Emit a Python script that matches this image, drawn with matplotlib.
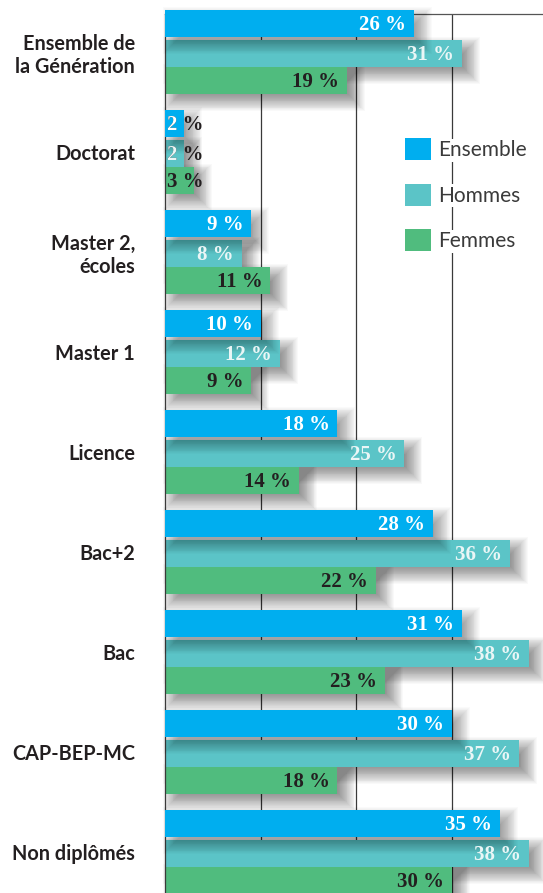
import matplotlib.pyplot as plt
from matplotlib.patches import Patch
import numpy as np

# Categories (top to bottom) and shares per series, in %
categories = ["Ensemble de\nla Génération", "Doctorat", "Master 2,\nécoles", "Master 1",
              "Licence", "Bac+2", "Bac", "CAP-BEP-MC", "Non diplômés"]
ensemble = [26, 2, 9, 10, 18, 28, 31, 30, 35]
hommes = [31, 2, 8, 12, 25, 36, 38, 37, 38]
femmes = [19, 3, 11, 9, 14, 22, 23, 18, 30]
series_names = ["Ensemble", "Hommes", "Femmes"]

colors = ["#00aeef", "#5bc4c7", "#50bc7e"]
text_colors = ["#ffffff", "#eaf6f6", "#231f20"]
offsets = [-0.285, 0.015, 0.285]
bar_h = 0.27

W, H = 543, 893
fig = plt.figure(figsize=(W / 100, H / 100), dpi=100)
ax = fig.add_axes([165 / W, 0, (W - 165) / W, (H - 14) / H])
px_x = 10 / 95.7   # data units (%) per pixel
px_y = 0.01        # data units (groups) per pixel
ax.set_xlim(0, (W - 165) * px_x)
ax.set_ylim(8.41, -0.38)

y = np.arange(len(categories))
values = [ensemble, hommes, femmes]

# soft drop shadow built from stacked translucent rectangles
def shadow(yc, vals, zorder, dx=8, dy=7, blur=10, layers=24, alpha=0.022):
    for j in range(layers):
        g = blur * (1 - 2 * j / (layers - 1))
        ax.barh(yc + dy * px_y, np.array(vals) + 2 * g * px_x,
                height=bar_h + 2 * g * px_y, left=(dx - g) * px_x,
                color="black", alpha=alpha, linewidth=0, zorder=zorder, clip_on=False)

shadow(y + offsets[2], femmes, 1)
shadow(y + offsets[1], hommes, 1)
shadow(y + offsets[0], ensemble, 3, alpha=0.02)

bars = []
for k, vals in enumerate(values):
    z = 4 if k == 0 else 2
    b = ax.barh(y + offsets[k], vals, height=bar_h, color=colors[k],
                linewidth=0, zorder=z, clip_on=False)
    bars.append(b)

# value labels
for k, vals in enumerate(values):
    for i, v in enumerate(vals):
        yc = y[i] + offsets[k]
        txt = f"{v} %"
        kw = dict(fontsize=15, fontweight="bold", family="Liberation Serif",
                  va="center", zorder=6, annotation_clip=False)
        if v < 5:
            ax.annotate(txt, (0, yc), xytext=(1.5, -1), textcoords="offset points",
                        ha="left", color="#231f20", **kw)
            if k < 2:
                t = ax.annotate(txt, (0, yc), xytext=(1.5, -1), textcoords="offset points",
                                ha="left", color=text_colors[k], **kw)
                t.set_clip_path(bars[k].patches[i])
        else:
            ax.annotate(txt, (v, yc), xytext=(-5.5, -1), textcoords="offset points",
                        ha="right", color=text_colors[k], **kw)

# grid and frame
for gx in [10, 20, 30]:
    ax.axvline(gx, color="#3a3a3a", linewidth=0.9, zorder=0.5)
for s in ["right", "bottom"]:
    ax.spines[s].set_visible(False)
ax.spines["left"].set_color("#3a3a3a")
ax.spines["top"].set_color("#555555")
ax.spines["left"].set_linewidth(0.9)
ax.spines["top"].set_linewidth(0.9)

ax.set_xticks([])
ax.set_yticks(y)
ax.set_yticklabels(categories, fontsize=14.3, fontweight="bold", family="Lato",
                   color="#231f20", linespacing=1.2)
ax.tick_params(axis="y", length=0, pad=21.5)

handles = [Patch(facecolor=c, edgecolor="none") for c in colors]
leg = ax.legend(handles, series_names, loc="upper left",
                bbox_to_anchor=(395 / W, 1 - 128 / H), bbox_transform=fig.transFigure,
                frameon=False, borderpad=0, handlelength=1.25, handleheight=1.25,
                handletextpad=0.3, labelspacing=1.12,
                prop=dict(family="Lato", weight="normal", size=15))
for t in leg.get_texts():
    t.set_color("#3a3a3a")
    t.set_bbox(dict(facecolor="white", edgecolor="none", pad=1))
leg.set_zorder(7)

fig.savefig("out.png", dpi=100)
